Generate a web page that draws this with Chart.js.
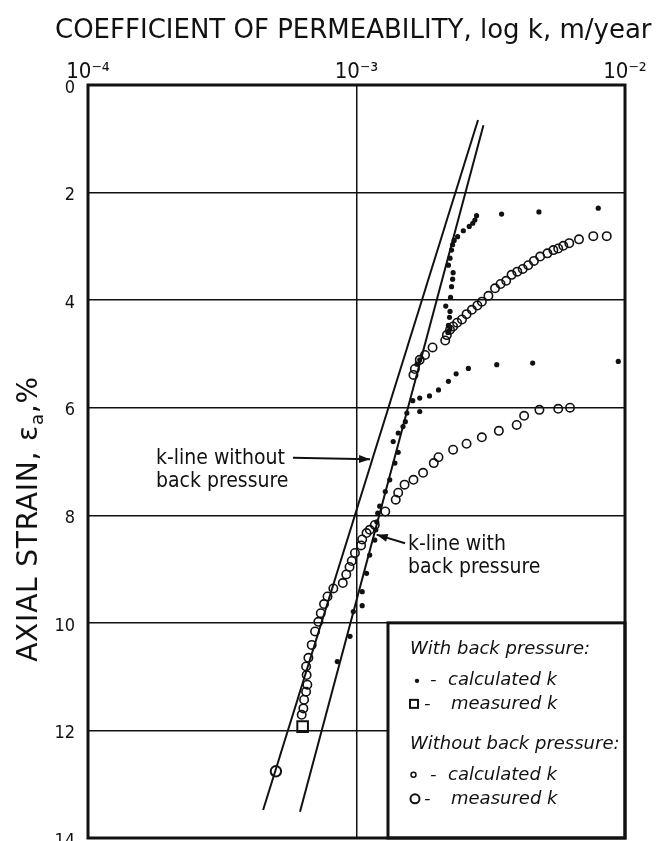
<!DOCTYPE html>
<html>
<head>
<meta charset="utf-8">
<script src="https://cdn.jsdelivr.net/npm/chart.js@4.4.1/dist/chart.umd.min.js"></script>
<style>
html,body{margin:0;padding:0;background:#fff;overflow:hidden;}
canvas{display:block;}
</style>
</head>
<body>
<canvas id="c" width="658" height="841"></canvas>
<script>
// ---- tick labels / axes ----
const xTickValues = [1e-4, 1e-3, 1e-2];
const xTickLabels = ['10\u207B\u2074', '10\u207B\u00B3', '10\u207B\u00B2'];
const yTickStep = 2;

// ---- k-lines (fitted straight lines) ----
const kLineWithoutBP_k = [2.835e-3, 4.49e-4];
const kLineWithoutBP_strain = [0.65, 13.48];
const kLineWithBP_k = [2.97e-3, 6.16e-4];
const kLineWithBP_strain = [0.75, 13.51];

// ---- With back pressure: calculated k (small filled dots) ----
const withBP_k = [7.95e-3, 4.78e-3, 3.47e-3, 2.80e-3, 2.76e-3, 2.71e-3, 2.63e-3, 2.50e-3, 2.38e-3, 2.31e-3,
  2.28e-3, 2.26e-3, 2.23e-3, 2.20e-3, 2.29e-3, 2.28e-3, 2.26e-3, 2.24e-3, 2.15e-3, 2.23e-3,
  2.22e-3, 2.20e-3, 2.23e-3, 2.21e-3, 2.19e-3, 1.72e-3, 1.68e-3,
  9.44e-3, 4.53e-3, 3.33e-3, 2.61e-3, 2.35e-3, 2.20e-3, 2.02e-3, 1.87e-3, 1.72e-3, 1.62e-3, 1.72e-3,
  1.54e-3, 1.52e-3, 1.49e-3, 1.43e-3, 1.37e-3, 1.43e-3, 1.39e-3, 1.33e-3, 1.28e-3, 1.22e-3,
  1.20e-3, 1.19e-3, 1.18e-3, 1.17e-3, 1.12e-3, 1.09e-3, 1.05e-3, 1.05e-3, 9.73e-4, 9.46e-4, 8.48e-4];
const withBP_strain = [2.29, 2.36, 2.40, 2.43, 2.51, 2.57, 2.63, 2.71, 2.82, 2.89,
  2.97, 3.07, 3.22, 3.35, 3.49, 3.61, 3.75, 3.95, 4.11, 4.21,
  4.32, 4.47, 4.52, 4.57, 4.60, 5.11, 5.19,
  5.14, 5.17, 5.20, 5.27, 5.37, 5.51, 5.67, 5.78, 5.82, 5.87, 6.07,
  6.10, 6.26, 6.35, 6.47, 6.63, 6.83, 7.03, 7.34, 7.56, 7.83,
  7.96, 8.12, 8.27, 8.46, 8.74, 9.08, 9.42, 9.68, 9.79, 10.25, 10.72];

// ---- Without back pressure: calculated k (small open circles) ----
const withoutBP_k = [8.55e-3, 7.62e-3, 6.74e-3, 6.20e-3, 5.89e-3, 5.64e-3, 5.41e-3, 5.14e-3, 4.83e-3, 4.58e-3,
  4.36e-3, 4.16e-3, 3.97e-3, 3.78e-3, 3.61e-3, 3.44e-3, 3.28e-3, 3.10e-3, 2.93e-3, 2.82e-3,
  2.69e-3, 2.57e-3, 2.47e-3, 2.37e-3, 2.29e-3, 2.23e-3, 2.17e-3, 2.14e-3, 1.92e-3, 1.80e-3,
  1.72e-3, 1.65e-3, 1.63e-3,
  6.24e-3, 5.64e-3, 4.80e-3, 4.21e-3, 3.95e-3, 3.39e-3, 2.93e-3, 2.57e-3, 2.29e-3, 2.02e-3,
  1.94e-3, 1.77e-3, 1.63e-3, 1.51e-3, 1.43e-3, 1.40e-3, 1.28e-3, 1.17e-3, 1.12e-3, 1.09e-3,
  1.05e-3, 1.04e-3, 9.87e-4, 9.60e-4, 9.42e-4, 9.16e-4, 8.89e-4, 8.20e-4, 7.80e-4, 7.57e-4,
  7.36e-4, 7.21e-4, 7.01e-4, 6.81e-4, 6.62e-4, 6.49e-4, 6.52e-4, 6.56e-4, 6.49e-4, 6.38e-4,
  6.34e-4, 6.25e-4];
const withoutBP_strain = [2.81, 2.81, 2.87, 2.94, 2.99, 3.04, 3.07, 3.13, 3.19, 3.27,
  3.35, 3.42, 3.47, 3.53, 3.64, 3.70, 3.78, 3.92, 4.03, 4.10,
  4.18, 4.26, 4.36, 4.42, 4.49, 4.55, 4.65, 4.75, 4.88, 5.02,
  5.11, 5.28, 5.39,
  6.00, 6.02, 6.04, 6.15, 6.32, 6.43, 6.55, 6.67, 6.78, 6.92,
  7.03, 7.21, 7.34, 7.43, 7.58, 7.71, 7.93, 8.18, 8.27, 8.33,
  8.45, 8.56, 8.70, 8.85, 8.96, 9.10, 9.26, 9.36, 9.51, 9.65,
  9.82, 9.98, 10.16, 10.41, 10.65, 10.81, 10.97, 11.15, 11.28, 11.43,
  11.59, 11.71];

// ---- measured k ----
const measuredWithBP_k = [6.30e-4];
const measuredWithBP_strain = [11.93];
const measuredWithoutBP_k = [5.01e-4];
const measuredWithoutBP_strain = [12.76];

// ---- annotation anchors (data units) ----
const annWithoutText = {k: 1.792e-4, s: [7.04, 7.47], lines: ['k-line without', 'back pressure']};
const annWithoutArrow = {k: [5.80e-4, 1.123e-3], s: [6.93, 6.96]};
const annWithText = {k: 1.555e-3, s: [8.64, 9.07], lines: ['k-line with', 'back pressure']};
const annWithArrow = {k: [1.516e-3, 1.189e-3], s: [8.52, 8.36]};
const legendBox = {k: 1.31e-3, s: 10};

const pts = (ks, ss) => ks.map((k, i) => ({x: k, y: ss[i]}));
const INK = '#111';

const overlay = {
  id: 'overlay',
  afterDraw(chart) {
    const {ctx, chartArea: a, scales: {x, y}} = chart;
    ctx.save();
    ctx.fillStyle = INK; ctx.strokeStyle = INK;

    function arrow(x0, y0, x1, y1) {
      ctx.lineWidth = 2;
      ctx.beginPath(); ctx.moveTo(x0, y0); ctx.lineTo(x1, y1); ctx.stroke();
      const ang = Math.atan2(y1 - y0, x1 - x0), L = 11, W = 4;
      ctx.beginPath();
      ctx.moveTo(x1, y1);
      ctx.lineTo(x1 - L * Math.cos(ang) + W * Math.sin(ang), y1 - L * Math.sin(ang) - W * Math.cos(ang));
      ctx.lineTo(x1 - L * Math.cos(ang) - W * Math.sin(ang), y1 - L * Math.sin(ang) + W * Math.cos(ang));
      ctx.closePath(); ctx.fill();
    }
    ctx.font = '21px "DejaVu Sans Condensed"';
    ctx.textAlign = 'left'; ctx.textBaseline = 'alphabetic';
    [annWithoutText, annWithText].forEach(t => {
      t.lines.forEach((ln, i) => ctx.fillText(ln, x.getPixelForValue(t.k), y.getPixelForValue(t.s[i])));
    });
    [annWithoutArrow, annWithArrow].forEach(ar => {
      arrow(x.getPixelForValue(ar.k[0]), y.getPixelForValue(ar.s[0]), x.getPixelForValue(ar.k[1]), y.getPixelForValue(ar.s[1]));
    });

    // legend box
    const L = x.getPixelForValue(legendBox.k), T = y.getPixelForValue(legendBox.s);
    ctx.fillStyle = '#fff';
    ctx.fillRect(L, T, a.right - L, a.bottom - T);
    ctx.fillStyle = INK;
    ctx.lineWidth = 3;
    ctx.strokeRect(L, T, a.right - L, a.bottom - T);
    ctx.font = 'italic 18px "DejaVu Sans"';
    ctx.textBaseline = 'middle';
    ctx.fillText('With back pressure:', L + 22, T + 26);
    ctx.fillText('Without back pressure:', L + 22, T + 121);
    ctx.beginPath(); ctx.arc(L + 29, T + 58, 2.2, 0, Math.PI * 2); ctx.fill();
    ctx.fillText('-', L + 42, T + 57); ctx.fillText('calculated k', L + 60, T + 57);
    ctx.lineWidth = 2; ctx.strokeRect(L + 22, T + 77, 8, 8);
    ctx.fillText('-', L + 36, T + 81); ctx.fillText('measured k', L + 63, T + 81);
    ctx.lineWidth = 1.5; ctx.beginPath(); ctx.arc(L + 25.5, T + 152, 2.5, 0, Math.PI * 2); ctx.stroke();
    ctx.fillText('-', L + 42, T + 152); ctx.fillText('calculated k', L + 60, T + 152);
    ctx.lineWidth = 2; ctx.beginPath(); ctx.arc(L + 27, T + 176, 4.5, 0, Math.PI * 2); ctx.stroke();
    ctx.fillText('-', L + 36, T + 176); ctx.fillText('measured k', L + 63, T + 176);

    // frame
    ctx.lineWidth = 3;
    ctx.strokeRect(a.left, a.top, a.right - a.left, a.bottom - a.top);

    // main title
    ctx.font = '26px "DejaVu Sans"';
    ctx.textAlign = 'left'; ctx.textBaseline = 'alphabetic';
    ctx.fillText('COEFFICIENT OF PERMEABILITY, log k, m/year', 55, 38);

    // y title with subscript
    ctx.save();
    ctx.translate(37, 519);
    ctx.rotate(-Math.PI / 2);
    try { ctx.letterSpacing = '0.8px'; } catch (e) {}
    const big = '28px "DejaVu Sans"', small = '18px "DejaVu Sans"';
    const segs = [['AXIAL STRAIN, \u03B5', big, 0], ['a', small, 6], [',%', big, 0]];
    let tot = 0;
    segs.forEach(s => { ctx.font = s[1]; tot += ctx.measureText(s[0]).width; });
    let cx = -tot / 2;
    segs.forEach(s => { ctx.font = s[1]; ctx.fillText(s[0], cx, s[2]); cx += ctx.measureText(s[0]).width; });
    ctx.restore();

    ctx.restore();
  }
};

new Chart(document.getElementById('c'), {
  type: 'scatter',
  data: {
    datasets: [
      {label: 'k-line without back pressure', data: pts(kLineWithoutBP_k, kLineWithoutBP_strain), showLine: true,
       borderColor: INK, borderWidth: 2, pointRadius: 0, fill: false},
      {label: 'k-line with back pressure', data: pts(kLineWithBP_k, kLineWithBP_strain), showLine: true,
       borderColor: INK, borderWidth: 2, pointRadius: 0, fill: false},
      {label: 'With back pressure: calculated k', data: pts(withBP_k, withBP_strain),
       pointStyle: 'circle', pointRadius: 2.6, backgroundColor: INK, borderColor: INK, borderWidth: 0},
      {label: 'Without back pressure: calculated k', data: pts(withoutBP_k, withoutBP_strain),
       pointStyle: 'circle', pointRadius: 4.2, backgroundColor: 'rgba(0,0,0,0)', borderColor: INK, borderWidth: 1.6},
      {label: 'With back pressure: measured k', data: pts(measuredWithBP_k, measuredWithBP_strain),
       pointStyle: 'rect', pointRadius: 7.5, backgroundColor: 'rgba(0,0,0,0)', borderColor: INK, borderWidth: 2},
      {label: 'Without back pressure: measured k', data: pts(measuredWithoutBP_k, measuredWithoutBP_strain),
       pointStyle: 'circle', pointRadius: 5.2, backgroundColor: 'rgba(0,0,0,0)', borderColor: INK, borderWidth: 2}
    ]
  },
  options: {
    responsive: false, animation: false, devicePixelRatio: 1,
    layout: {autoPadding: false, padding: {left: 0, right: 33, top: 0, bottom: 3}},
    plugins: {legend: {display: false}, tooltip: {enabled: false}, title: {display: false}},
    scales: {
      x: {
        type: 'logarithmic', position: 'top', min: 1e-4, max: 1e-2,
        afterBuildTicks: s => { s.ticks = xTickValues.map(v => ({value: v})); },
        afterFit: s => { s.height = 85; },
        ticks: {
          callback: v => { const i = xTickValues.indexOf(v); return i >= 0 ? xTickLabels[i] : ''; },
          font: {family: 'DejaVu Sans Condensed', size: 22}, color: INK, padding: 0,
          maxRotation: 0, autoSkip: false
        },
        grid: {color: INK, lineWidth: 1.5, drawTicks: false},
        border: {display: false}
      },
      y: {
        type: 'linear', reverse: true, min: 0, max: 14,
        ticks: {stepSize: yTickStep, font: {family: 'DejaVu Sans Condensed', size: 18}, color: INK, padding: 13, labelOffset: 3},
        afterFit: s => { s.width = 88; s.paddingTop = 0; s.paddingBottom = 0; },
        grid: {color: INK, lineWidth: 1.5, drawTicks: false},
        border: {display: false}
      }
    }
  },
  plugins: [overlay]
});
</script>
</body>
</html>
